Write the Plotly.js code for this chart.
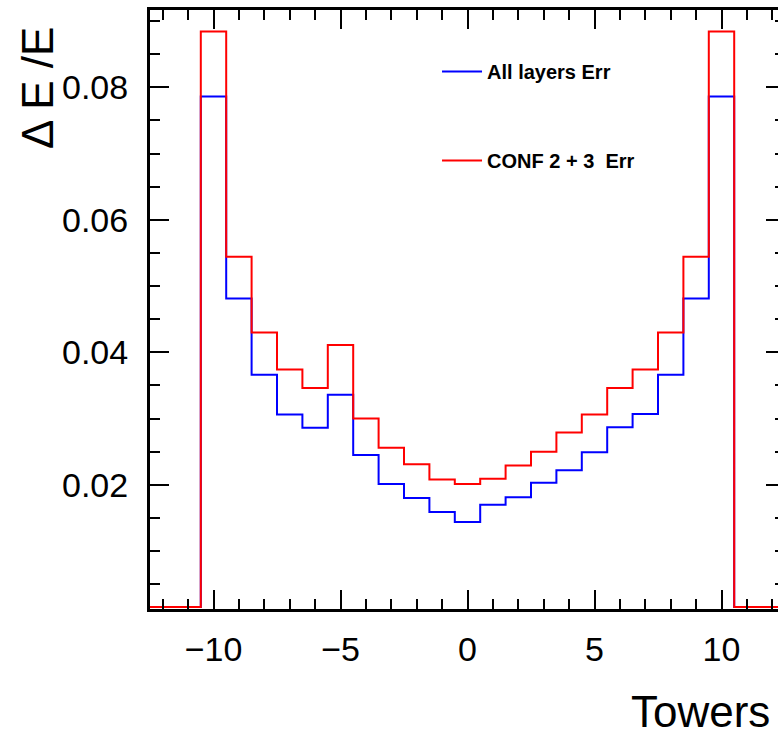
<!DOCTYPE html>
<html>
<head>
<meta charset="utf-8">
<script src="https://cdn.plot.ly/plotly-3.0.1.min.js"></script>
<style>
html, body { margin: 0; padding: 0; overflow: hidden; background: #ffffff; }
#chart { width: 795px; height: 735px; }
</style>
</head>
<body>
<div id="chart"></div>
<script>
// Bin centres (towers) and bin contents
const towers = [-12,-11,-10,-9,-8,-7,-6,-5,-4,-3,-2,-1,0,1,2,3,4,5,6,7,8,9,10,11,12];
const allLayersErr = [0,0,0.0786,0.0481,0.0366,0.0306,0.0286,0.0336,0.0245,0.0201,0.0180,0.0159,0.0144,0.0170,0.0181,0.0203,0.0222,0.0249,0.0287,0.0307,0.0366,0.0481,0.0786,0,0];
const conf23Err   = [0,0,0.0884,0.0544,0.0430,0.0374,0.0346,0.0411,0.0300,0.0256,0.0231,0.0208,0.0201,0.0209,0.0229,0.0250,0.0279,0.0306,0.0346,0.0374,0.0430,0.0544,0.0884,0,0];
const seriesNames = ["All layers Err", "CONF 2 + 3  Err"];
const xTitle = "Towers";
const yTitle = "\u0394 E /E";

const binWidth = 1;
const yMin = 0.00125, yMax = 0.09166;
const xMin = towers[0] - binWidth/2, xMax = towers[towers.length-1] + binWidth/2;

// histogram outline: edges with step shape, empty bins drawn at the frame floor (ROOT style)
function stepTrace(vals, name, color) {
  const xs = [], ys = [];
  for (let i = 0; i < towers.length; i++) {
    xs.push(towers[i] - binWidth/2);
    ys.push(Math.max(vals[i], yMin + 0.0003));
  }
  xs.push(towers[towers.length-1] + binWidth/2);
  ys.push(ys[ys.length-1]);
  return {
    type: 'scatter', mode: 'lines', x: xs, y: ys, name: name,
    line: {shape: 'hv', color: color, width: 2},
    legendgroup: name, hoverinfo: 'skip'
  };
}

const data = [
  stepTrace(allLayersErr, seriesNames[0], '#0000ff'),
  stepTrace(conf23Err, seriesNames[1], '#ff0000')
];

const font = {family: '"Liberation Sans", Arial, Helvetica, sans-serif', color: '#000000'};

const layout = {
  width: 795, height: 735,
  margin: {l: 150, r: 10, t: 10, b: 126},
  paper_bgcolor: '#ffffff', plot_bgcolor: '#ffffff',
  font: Object.assign({}, font, {size: 34}),
  showlegend: true,
  legend: {
    x: 0.452, y: 0.930, xanchor: 'left', yanchor: 'top',
    bgcolor: 'rgba(255,255,255,0)', borderwidth: 0,
    font: Object.assign({}, font, {size: 20, weight: 'bold'}),
    traceorder: 'grouped', tracegroupgap: 60, itemwidth: 40
  },
  xaxis: {
    range: [xMin, xMax], showgrid: false, zeroline: false,
    showline: true, linecolor: '#000', linewidth: 3, mirror: 'allticks',
    ticks: 'inside', ticklen: 19, tickwidth: 2, tickcolor: '#000',
    tick0: 0, dtick: 5,
    minor: {ticks: 'inside', ticklen: 10, tickwidth: 2, tickcolor: '#000', dtick: 1, showgrid: false},
    tickfont: Object.assign({}, font, {size: 34}),
    ticklabelstandoff: 8
  },
  yaxis: {
    range: [yMin, yMax], showgrid: false, zeroline: false,
    showline: true, linecolor: '#000', linewidth: 3, mirror: 'allticks',
    ticks: 'inside', ticklen: 19, tickwidth: 2, tickcolor: '#000',
    tick0: 0, dtick: 0.02, tickformat: '.2f',
    minor: {ticks: 'inside', ticklen: 10, tickwidth: 2, tickcolor: '#000', dtick: 0.005, showgrid: false},
    tickfont: Object.assign({}, font, {size: 34}),
    ticklabelstandoff: 12
  },
  annotations: [
    {text: xTitle, xref: 'paper', yref: 'paper', x: (772-150)/635, y: 1 - (711-10)/599,
     xanchor: 'right', yanchor: 'middle', showarrow: false,
     font: Object.assign({}, font, {size: 44})},
    {text: yTitle, xref: 'paper', yref: 'paper', x: (37-150)/635, y: 1 - (88-10)/599,
     xanchor: 'center', yanchor: 'middle', textangle: -90, showarrow: false,
     font: Object.assign({}, font, {size: 44})}
  ]
};

Plotly.newPlot('chart', data, layout, {displayModeBar: false, staticPlot: true});
</script>
</body>
</html>
